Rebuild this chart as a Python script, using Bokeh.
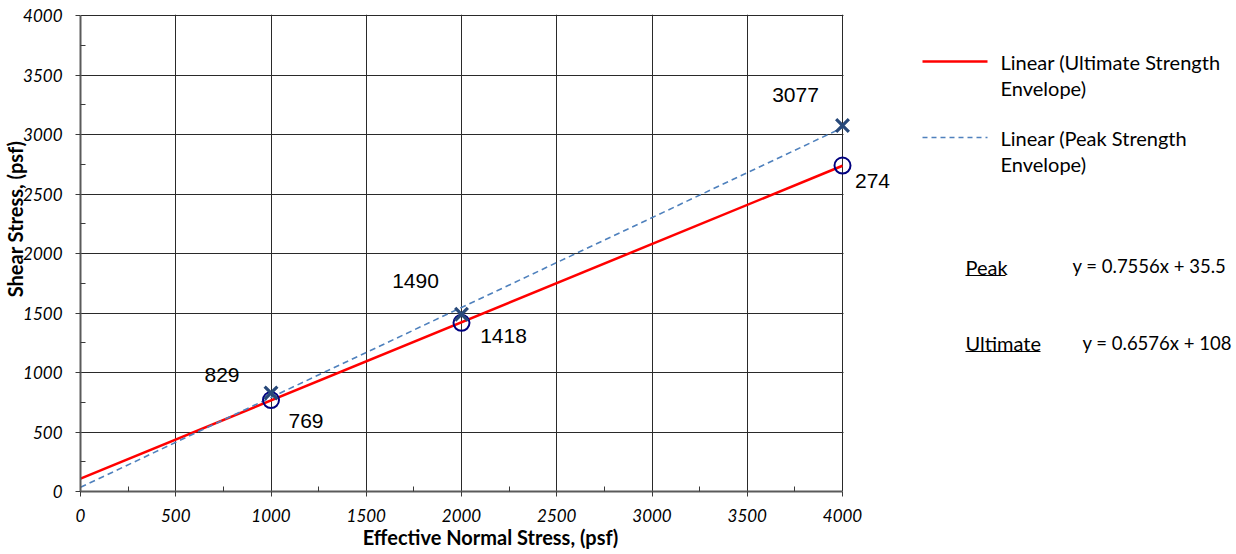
from bokeh.plotting import figure
from bokeh.layouts import row
from bokeh.models import ColumnDataSource, LabelSet, Range1d, FixedTicker, BoxAnnotation
from bokeh.core.properties import value
from bokeh.embed import file_html
from bokeh.resources import INLINE

# Direct shear test results
normal_stress = [1000, 2000, 4000]
peak_shear = [829, 1490, 3077]
ultimate_shear = [769, 1418, 2740]
peak_labels = ["829", "1490", "3077"]
ultimate_labels = ["769", "1418", "274"]

# Linear strength envelopes (slope, intercept)
peak_fit = (0.7556, 35.5)
ultimate_fit = (0.6576, 108)
fit_x = [0, 4000]

x_ticks = [0, 500, 1000, 1500, 2000, 2500, 3000, 3500, 4000]
y_ticks = [0, 500, 1000, 1500, 2000, 2500, 3000, 3500, 4000]
minor_ticks = [250, 750, 1250, 1750, 2250, 2750, 3250, 3750]

# label offsets (screen px) for the point annotations
peak_dx = [-49, -46, -47]
peak_dy = [18, 33, 30]
ult_dx = [35, 42, 30]
ult_dy = [-21, -13, -15]

CAL = "Lato"
ARIAL = "Liberation Sans"

FRAME_TOP, FRAME_BOTTOM = 14, 491
frame_w = 820
x_end = frame_w * 4000 / 762.0

p = figure(width=900, height=554, output_backend="svg", toolbar_location=None,
           x_range=Range1d(0, x_end), y_range=Range1d(0, 4010),
           min_border_left=80, min_border_right=0,
           min_border_top=FRAME_TOP, min_border_bottom=554 - FRAME_BOTTOM)
p.outline_line_color = None
p.background_fill_color = "white"
p.border_fill_color = "white"

for ax, ticks in ((p.xaxis, x_ticks), (p.yaxis, y_ticks)):
    ax.ticker = FixedTicker(ticks=ticks, minor_ticks=minor_ticks)
    ax.bounds = (0, 4000)
    ax.axis_line_color = "#5a5a5a"
    ax.axis_line_width = 2
    ax.major_tick_line_color = "#3a3a3a"
    ax.minor_tick_line_color = "#3a3a3a"
    ax.major_tick_out = 5
    ax.major_tick_in = 0
    ax.minor_tick_out = 0
    ax.minor_tick_in = 5
    ax.major_label_text_font = CAL
    ax.major_label_text_font_style = "italic"
    ax.major_label_text_font_size = "17px"
    ax.major_label_text_color = "black"
    ax.axis_label_text_font = CAL
    ax.axis_label_text_font_style = "bold"
    ax.axis_label_text_font_size = "20px"
    ax.axis_label_text_color = "black"

p.xaxis.axis_label = "Effective Normal Stress, (psf)"
# leading no-break spaces lift the title above the frame centre
p.yaxis.axis_label = "\u00a0" * 14 + "Shear Stress, (psf)"
p.xaxis.major_label_standoff = 12
p.xaxis.axis_label_standoff = 0
p.yaxis.major_label_standoff = 13
p.yaxis.axis_label_standoff = -7

p.grid.grid_line_color = "#2a2a2a"
p.grid.grid_line_width = 1

# hide the horizontal grid beyond the last x tick
p.add_layout(BoxAnnotation(left=4005, right=x_end * 2, bottom=-1000, top=9000,
                           fill_color="white", fill_alpha=1,
                           line_color=None, level="underlay"))

# fitted envelopes
p.line(fit_x, [ultimate_fit[0] * x + ultimate_fit[1] for x in fit_x],
       line_color="#FF0000", line_width=2.5)
p.line(fit_x, [peak_fit[0] * x + peak_fit[1] for x in fit_x],
       line_color="#4F81BD", line_width=1.6, line_dash="6 4")

peak_src = ColumnDataSource(dict(x=normal_stress, y=peak_shear, t=peak_labels,
                                 dx=peak_dx, dy=peak_dy))
ult_src = ColumnDataSource(dict(x=normal_stress, y=ultimate_shear, t=ultimate_labels,
                                dx=ult_dx, dy=ult_dy))

p.scatter("x", "y", source=ult_src, marker="circle", size=16,
          fill_color=None, line_color="#00007F", line_width=2)
p.scatter("x", "y", source=peak_src, marker="x", size=18,
          line_color="#28497A", line_width=3.2)

for src in (peak_src, ult_src):
    p.add_layout(LabelSet(x="x", y="y", text="t", source=src,
                          x_offset="dx", y_offset="dy",
                          text_align="center", text_baseline="middle",
                          text_font=value(ARIAL), text_font_size="21px",
                          text_color="black"))

# legend and equation panel (y in page pixels, frame aligned with the chart)
q = figure(width=336, height=554, output_backend="svg", toolbar_location=None,
           x_range=Range1d(0, 336), y_range=Range1d(FRAME_BOTTOM, FRAME_TOP),
           min_border_left=0, min_border_right=0,
           min_border_top=FRAME_TOP, min_border_bottom=554 - FRAME_BOTTOM,
           x_axis_location=None, y_axis_location=None)
q.outline_line_color = None
q.grid.visible = False

q.segment(x0=[22], y0=[61], x1=[87], y1=[61], line_color="#FF0000", line_width=2.5)
q.segment(x0=[22], y0=[137], x1=[87], y1=[137], line_color="#4F81BD",
          line_width=1.6, line_dash="5 4")
q.text(x=[100, 100, 100, 100], y=[61, 87, 137, 163],
       text=["Linear (Ultimate Strength", "Envelope)",
             "Linear (Peak Strength", "Envelope)"],
       text_font=value(CAL), text_font_size="20px", text_color="black",
       text_align="left", text_baseline="middle")

q.text(x=[65, 65], y=[266, 342], text=["Peak", "Ultimate"],
       text_font=value(CAL), text_font_size="20px", text_color="black",
       text_align="left", text_baseline="middle")
q.segment(x0=[65, 65], y0=[275, 351], x1=[105, 140], y1=[275, 351],
          line_color="black", line_width=1)

q.text(x=[172, 182], y=[265, 342],
       text=["y = 0.7556x + 35.5", "y = 0.6576x + 108"],
       text_font=value(CAL), text_font_size="18.5px", text_color="black",
       text_align="left", text_baseline="middle")

layout = row(p, q, spacing=0)
open("out.html", "w").write(file_html(layout, INLINE))
